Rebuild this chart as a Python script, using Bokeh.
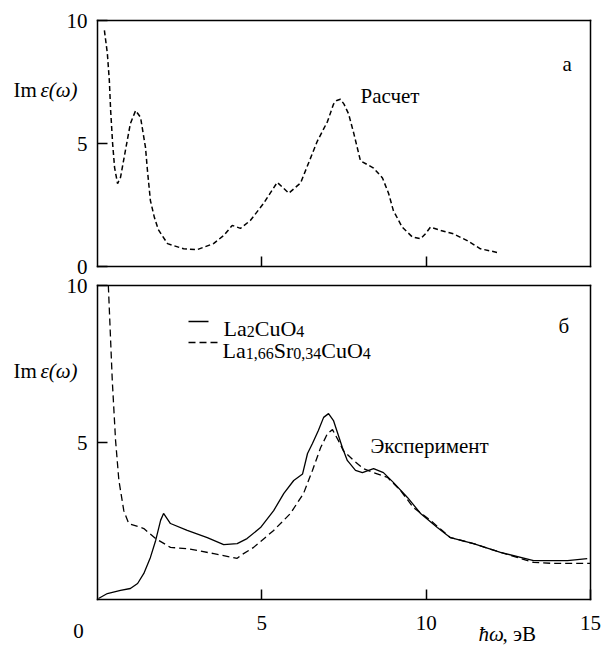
from bokeh.plotting import figure
from bokeh.models import Label, FixedTicker, LinearAxis, Range1d
from bokeh.embed import file_html
from bokeh.resources import INLINE

# ---- data ----
# panel "а": calculated Im eps(omega)
calc_x = [0.21, 0.3, 0.36, 0.4, 0.46, 0.52, 0.61, 0.7, 0.85, 1.0, 1.16, 1.31, 1.46, 1.52, 1.61, 1.73,
          1.85, 2.13, 2.62, 3.04, 3.53, 3.84, 4.1, 4.35, 4.65, 5.05, 5.47, 5.82, 6.18, 6.69, 7.0,
          7.18, 7.28, 7.39, 7.5, 7.64, 7.8, 8.0, 8.4, 8.67, 8.86, 9.0, 9.27, 9.58, 9.83, 9.98,
          10.13, 10.43, 10.83, 11.25, 11.65, 12.2]
calc_y = [9.6, 8.66, 7.56, 6.34, 5.0, 4.02, 3.37, 3.62, 4.72, 5.81, 6.34, 6.06, 4.84, 3.9, 2.68, 2.0,
          1.5, 0.93, 0.72, 0.69, 0.93, 1.26, 1.67, 1.55, 1.87, 2.56, 3.42, 2.98, 3.4, 5.1, 5.9,
          6.6, 6.75, 6.8, 6.6, 6.2, 5.4, 4.3, 4.0, 3.6, 2.96, 2.28, 1.6, 1.2, 1.13, 1.33,
          1.6, 1.47, 1.33, 1.05, 0.72, 0.56]

# panel "б": experiment, La2CuO4 (solid)
la2_x = [0.03, 0.3, 0.7, 1.0, 1.22, 1.41, 1.61, 1.77, 1.92, 2.01, 2.22, 2.73, 3.34, 3.84, 4.25, 4.55,
         4.96, 5.36, 5.67, 5.97, 6.24, 6.39, 6.54, 6.72, 6.88, 7.03, 7.18, 7.3, 7.45, 7.6, 7.85,
         8.06, 8.4, 8.7, 9.0, 9.43, 9.83, 10.34, 10.74, 11.44, 12.26, 13.27, 14.3, 14.9]
la2_y = [0.03, 0.19, 0.29, 0.35, 0.51, 0.83, 1.34, 1.88, 2.52, 2.74, 2.42, 2.2, 1.97, 1.75, 1.78, 1.94,
         2.29, 2.83, 3.38, 3.79, 4.0, 4.65, 4.97, 5.38, 5.8, 5.92, 5.7, 5.32, 4.84, 4.43, 4.11,
         4.04, 4.17, 4.04, 3.73, 3.25, 2.74, 2.29, 1.97, 1.78, 1.5, 1.24, 1.24, 1.3]

# panel "б": experiment, La1.66Sr0.34CuO4 (dashed)
sr_x = [0.33, 0.45, 0.55, 0.65, 0.8, 0.95, 1.41, 1.77, 2.22, 2.73, 3.54, 4.25, 4.35, 4.75, 5.36, 5.87,
        6.27, 6.54, 6.79, 7.0, 7.15, 7.33, 7.48, 7.79, 8.09, 8.4, 8.82, 9.22, 9.61, 10.13, 10.74,
        11.44, 12.26, 13.27, 13.87, 15.0]
sr_y = [10.0, 6.97, 5.06, 3.8, 2.83, 2.42, 2.26, 1.94, 1.66, 1.62, 1.46, 1.31, 1.4, 1.66, 2.2, 2.74,
        3.38, 4.11, 4.84, 5.29, 5.41, 5.06, 4.74, 4.43, 4.17, 4.04, 3.89, 3.47, 2.93, 2.52, 1.97,
        1.78, 1.5, 1.18, 1.15, 1.15]

top_yticks = [0, 5, 10]
top_xticks = [5, 10]
bot_yticks = [5, 10]
bot_xticks = [5, 10, 15]

FONT = "Liberation Serif"
FS = "21px"

# ---- canvas geometry: the plot frame fills the canvas; panels are drawn with fixed-location axes ----
W, H = 602, 646
FL, FR = 97, 590                 # panel left/right edges (px)
TT, TB = 20, 266                 # top panel top/bottom (px)
BT, BB = 285, 599                # bottom panel top/bottom (px)
sx = (FR - FL) / 15.0
sb = (BB - BT) / 10.0
st = (TB - TT) / 10.0

p = figure(width=W, height=H, toolbar_location=None, output_backend="svg",
           x_range=Range1d(-FL / sx, 15 + (W - FR) / sx),
           y_range=Range1d(-(H - BB) / sb, BB / sb),
           x_axis_type=None, y_axis_type=None,
           min_border_left=0, min_border_right=0, min_border_top=0, min_border_bottom=0)
p.extra_y_ranges = {"top": Range1d(-(H - TB) / st, TB / st)}
p.outline_line_color = None
p.xgrid.visible = False
p.ygrid.visible = False
p.background_fill_color = "white"
p.border_fill_color = "white"


def make_axis(loc, bounds, ticks, labels, yname="default", standoff=10):
    ax = LinearAxis(fixed_location=loc, bounds=bounds, y_range_name=yname,
                    ticker=FixedTicker(ticks=ticks, minor_ticks=[]))
    ax.axis_line_color = "black"
    ax.axis_line_width = 1.5
    ax.axis_line_cap = "square"
    ax.major_tick_line_color = "black"
    ax.major_tick_line_width = 1.5
    ax.major_tick_in = 10
    ax.major_tick_out = 0
    ax.minor_tick_line_color = None
    ax.major_label_text_font = FONT
    ax.major_label_text_font_size = FS
    ax.major_label_text_color = "black"
    ax.major_label_standoff = standoff
    if not labels:
        ax.major_label_overrides = {t: "" for t in ticks}
    return ax


# top panel box
p.add_layout(make_axis(0, (0, 10), top_yticks, True, "top", 10), "left")
p.add_layout(make_axis(0, (0, 15), top_xticks, False, "top"), "below")
p.add_layout(make_axis(15, (0, 10), [], False, "top"), "right")
p.add_layout(make_axis(10, (0, 15), [], False, "top"), "above")
# bottom panel box
p.add_layout(make_axis(0, (0, 10), bot_yticks, True, "default", 10), "left")
p.add_layout(make_axis(0, (0, 15), bot_xticks, True, "default", 16), "below")
p.add_layout(make_axis(15, (0, 10), [], False), "right")
p.add_layout(make_axis(10, (0, 15), [], False), "above")

# curves
p.line(calc_x, calc_y, y_range_name="top", line_color="black", line_width=1.5, line_dash="5 3")
p.line(la2_x, la2_y, line_color="black", line_width=1.3)
p.line(sr_x, sr_y, line_color="black", line_width=1.3, line_dash="7 4")


def tx(px):
    return (px - FL) / sx
def ty_top(py):
    return (TB - py) / st
def ty_bot(py):
    return (BB - py) / sb


def lab(x, y, text, italic=False, size=FS, align="left", yname="default"):
    p.add_layout(Label(x=x, y=y, y_range_name=yname, text=text, text_font=FONT, text_font_size=size,
                       text_font_style="italic" if italic else "normal",
                       text_baseline="alphabetic", text_align=align, text_color="black"))


# top panel texts
lab(tx(13), ty_top(89), "Im", yname="top")
lab(tx(40), ty_top(89), "ε(ω)", italic=True, yname="top")
lab(tx(562), ty_top(63), "а", yname="top")
lab(tx(360), ty_top(95), "Расчет", yname="top")

# legend keys
p.segment(x0=[tx(188)], y0=[ty_bot(321)], x1=[tx(208)], y1=[ty_bot(321)],
          line_color="black", line_width=1.3)
p.segment(x0=[tx(188)], y0=[ty_bot(342)], x1=[tx(219)], y1=[ty_bot(342)],
          line_color="black", line_width=1.3, line_dash="7 4")

# legend texts with subscripts (Times metrics for piece placement)
WID = {'L': 611, 'a': 444, 'C': 667, 'u': 500, 'O': 722, 'S': 556, 'r': 333, ',': 250}
for d in "0123456789":
    WID[d] = 500
MAIN, SUB = 22, 16

def rich(x_px, base_px, pieces):
    x = x_px
    for txt, sub in pieces:
        fs = SUB if sub else MAIN
        y = base_px + (3 if sub else 0)
        lab(tx(x), ty_bot(y), txt, size=f"{fs}px")
        x += sum(WID.get(c, 500) for c in txt) / 1000.0 * fs

rich(223, 328, [("La", 0), ("2", 1), ("CuO", 0), ("4", 1)])
rich(222, 350, [("La", 0), ("1,66", 1), ("Sr", 0), ("0,34", 1), ("CuO", 0), ("4", 1)])

# bottom panel texts
lab(tx(13), ty_bot(370), "Im")
lab(tx(40), ty_bot(370), "ε(ω)", italic=True)
lab(tx(558), ty_bot(325), "б")
lab(tx(370), ty_bot(445), "Эксперимент")
lab(tx(78), ty_bot(630), "0", align="center")
lab(tx(478), ty_bot(633), "ħω", italic=True)
lab(tx(502), ty_bot(633), ", эВ")

open("out.html", "w").write(file_html(p, INLINE))
